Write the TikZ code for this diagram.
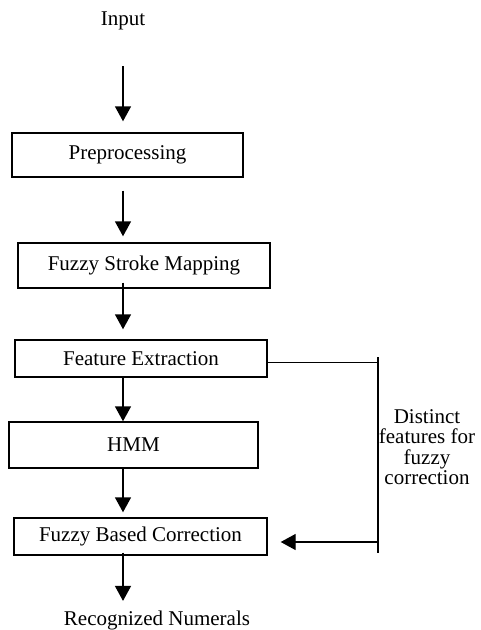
\documentclass[tikz,border=0pt]{standalone}
\usepackage{fontspec}
\setmainfont{Liberation Serif}
\usetikzlibrary{arrows.meta}
\begin{document}
\begin{tikzpicture}[x=1pt,y=-1pt,
    stage/.style={draw,line width=1.4pt,inner sep=0pt,font=\fontsize{21}{24}\selectfont},
    flow/.style={line width=1.4pt,-{Triangle[width=16pt,length=15pt]}},
    label/.style={font=\fontsize{21}{24}\selectfont}]
      \useasboundingbox (0,0) rectangle (480,630);
      \node[label] (in) at (123,21) {Input};
      \node[stage,minimum width=231pt,minimum height=44pt] (pre) at (127.5,155) {Preprocessing};
      \node[stage,minimum width=252pt,minimum height=45pt] (fsm) at (144,265.5) {Fuzzy Stroke Mapping};
      \node[stage,minimum width=252pt,minimum height=37pt] (fe) at (141,358.5) {Feature Extraction};
      \node[stage,minimum width=249pt,minimum height=46pt] (hmm) at (133.5,445) {HMM};
      \node[stage,minimum width=253pt,minimum height=37pt] (fbc) at (140.5,536.5) {Fuzzy Based Correction};
      \node[label] (out) at (157,620) {Recognized Numerals};
      \node[align=center,font=\fontsize{21}{20.5}\selectfont] (note) at (427,447) {Distinct\\features for\\fuzzy\\correction};
      \coordinate (bartop) at (378,357);
      \coordinate (barbot) at (378,553);

      \draw[flow,shorten <=45pt,shorten >=11pt] (in.center) -- (pre.north -| in);
      \draw[flow,shorten <=13pt,shorten >=6pt] (pre.south -| in) -- (fsm.north -| in);
      \draw[flow,shorten <=-6pt,shorten >=10pt] (fsm.south -| in) -- (fe.north -| in);
      \draw[flow] (fe.south -| in) -- (hmm.north -| in);
      \draw[flow,shorten >=5pt] (hmm.south -| in) -- (fbc.north -| in);
      \draw[flow,shorten <=-3pt,shorten >=6pt] (fbc.south -| in) -- (out.north -| in);

      \draw[line width=1.4pt] ([yshift=-4pt]fe.east) -- ([yshift=-4pt]fe.east -| bartop);
      \draw[line width=1.4pt] (bartop) -- (barbot);
      \draw[flow,shorten >=13pt] ([yshift=-5.5pt]fbc.east -| bartop) -- ([yshift=-5.5pt]fbc.east);
    \end{tikzpicture}
\end{document}
